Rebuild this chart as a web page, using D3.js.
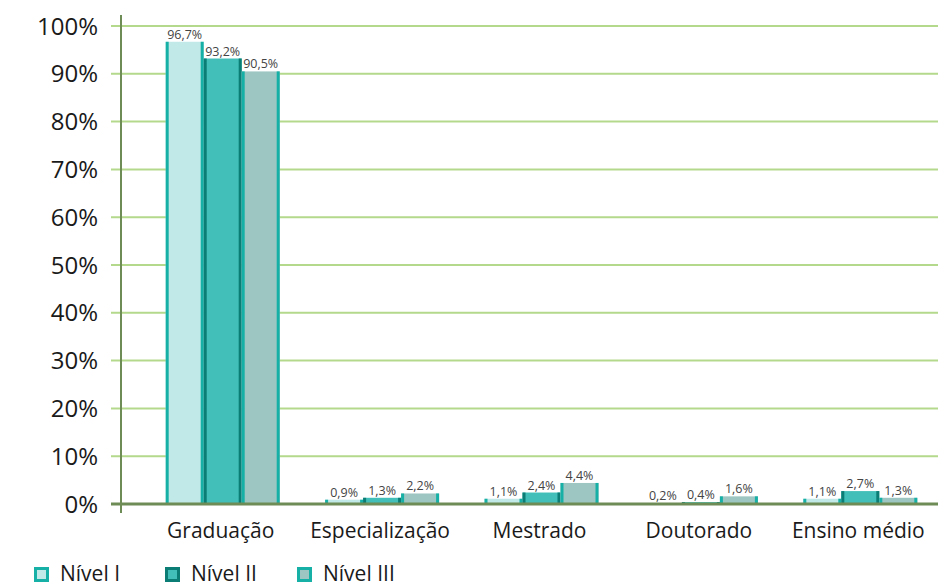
<!DOCTYPE html>
<html>
<head>
<meta charset="utf-8">
<script src="https://cdn.jsdelivr.net/npm/d3@7"></script>
<style>
  body { margin: 0; background: #fff; }
  svg { font-family: "Open Sans", "Noto Sans", sans-serif; }
</style>
</head>
<body>
<script>
// data
var categories = ["Graduação", "Especialização", "Mestrado", "Doutorado", "Ensino médio"];
var seriesNames = ["Nível I", "Nível II", "Nível III"];
var nivel1 = [96.7, 0.9, 1.1, 0.2, 1.1];
var nivel2 = [93.2, 1.3, 2.4, 0.4, 2.7];
var nivel3 = [90.5, 2.2, 4.4, 1.6, 1.3];
var yTicks = [0, 10, 20, 30, 40, 50, 60, 70, 80, 90, 100];

var fills = ["#c1e9e7", "#41bfb8", "#9dc6c2"];
var edges = ["#17b0a6", "#0b7d75", "#17b0a6"];

var width = 938, height = 587;
var svg = d3.select("body").append("svg")
    .attr("width", width)
    .attr("height", height);

var x = d3.scaleBand().domain(categories).range([141, 938]);
var y = d3.scaleLinear().domain([0, 100]).range([504, 26]);
var bw = 38;

var series = [nivel1, nivel2, nivel3];
var sub = d3.scaleBand().domain([0, 1, 2]).range([0, bw * 3]);

function barX(cat, s) {
  return x(cat) + x.bandwidth() / 2 - bw * 1.5 + 2 + sub(s);
}

// gridlines
svg.append("g").selectAll("line")
    .data(yTicks.filter(function(d) { return d > 0; }))
    .enter().append("line")
    .attr("x1", 111).attr("x2", 938)
    .attr("y1", function(d) { return y(d); })
    .attr("y2", function(d) { return y(d); })
    .style("stroke", "#b4d98c")
    .style("stroke-width", 2);

// y labels
svg.append("g").selectAll("text")
    .data(yTicks)
    .enter().append("text")
    .attr("x", 98)
    .attr("y", function(d) { return y(d); })
    .attr("dy", "0.36em")
    .attr("text-anchor", "end")
    .style("font-size", "24px")
    .style("fill", "#1a1a1a")
    .text(function(d) { return d + "%"; });

// bars
series.forEach(function(vals, s) {
  var g = svg.append("g");
  var bars = g.selectAll("g.bar")
      .data(vals.map(function(v, i) { return {cat: categories[i], value: v}; }))
      .enter().append("g");

  bars.append("rect")
      .attr("x", function(d) { return barX(d.cat, s); })
      .attr("y", function(d) { return y(d.value); })
      .attr("width", bw)
      .attr("height", function(d) { return y(0) - y(d.value); })
      .style("fill", fills[s]);

  // darker side edges
  [0, bw - 3].forEach(function(off) {
    bars.append("rect")
        .attr("x", function(d) { return barX(d.cat, s) + off; })
        .attr("y", function(d) { return y(d.value); })
        .attr("width", 3)
        .attr("height", function(d) { return y(0) - y(d.value); })
        .style("fill", edges[s]);
  });

  bars.append("text")
      .attr("x", function(d) { return barX(d.cat, s) + bw / 2; })
      .attr("y", function(d) { return y(d.value) - 3; })
      .attr("text-anchor", "middle")
      .style("font-size", "12.5px")
      .style("fill", "#444")
      .text(function(d) { return String(d.value).replace(".", ",") + "%"; });
});

// axes lines
svg.append("line")
    .attr("x1", 121).attr("x2", 121)
    .attr("y1", 15).attr("y2", 513)
    .style("stroke", "#6e8c55").style("stroke-width", 2);
svg.append("line")
    .attr("x1", 111).attr("x2", 938)
    .attr("y1", y(0)).attr("y2", y(0))
    .style("stroke", "#6e8c55").style("stroke-width", 3);

// x labels
svg.append("g").selectAll("text")
    .data(categories)
    .enter().append("text")
    .attr("x", function(d) { return x(d) + x.bandwidth() / 2; })
    .attr("y", 538)
    .attr("text-anchor", "middle")
    .style("font-size", "21px")
    .style("fill", "#1a1a1a")
    .text(function(d) { return d; });

// legend
var legendX = [34, 165, 297];
var legend = svg.append("g").selectAll("g")
    .data(seriesNames)
    .enter().append("g")
    .attr("transform", function(d, i) { return "translate(" + legendX[i] + ",567)"; });
legend.append("rect")
    .attr("x", 1.5).attr("y", 1.5)
    .attr("width", 12).attr("height", 12)
    .style("fill", function(d, i) { return fills[i]; })
    .style("stroke", function(d, i) { return edges[i]; })
    .style("stroke-width", 3);
legend.append("text")
    .attr("x", 26)
    .attr("y", 14)
    .style("font-size", "21px")
    .style("fill", "#1a1a1a")
    .text(function(d) { return d; });
</script>
</body>
</html>
